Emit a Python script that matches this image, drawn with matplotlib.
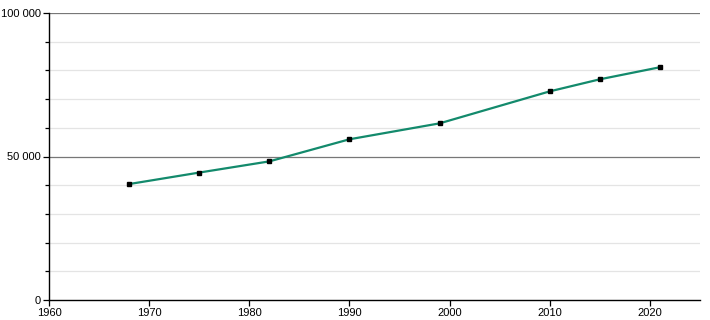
import matplotlib
matplotlib.use('Agg')
import matplotlib.pyplot as plt
from matplotlib.ticker import MultipleLocator, FuncFormatter

plt.rcParams.update({
    'font.family': 'Liberation Sans',
    'font.size': 8,
})

years = [1968, 1975, 1982, 1990, 1999, 2010, 2015, 2021]
population = [40400, 44400, 48300, 56000, 61550, 72700, 76900, 81100]

line_color = '#138a6c'

fig = plt.figure(figsize=(7.1, 3.2), dpi=100)
ax = fig.add_axes([49 / 710, 20 / 320, 651 / 710, 287 / 320])

ax.set_xlim(1960, 2025)
ax.set_ylim(0, 100000)

# light minor grid every 10 000, darker lines at 50 000 steps
for v in range(10000, 100001, 10000):
    if v % 50000 == 0:
        ax.axhline(v, color='#777777', linewidth=0.9, zorder=1)
    else:
        ax.axhline(v, color='#e4e4e4', linewidth=0.9, zorder=1)

ax.plot(years, population, color=line_color, linewidth=1.6, zorder=3)
ax.plot(years, population, linestyle='none', marker='s', markersize=3.3,
        color='black', zorder=4)

ax.xaxis.set_major_locator(MultipleLocator(10))
ax.yaxis.set_major_locator(MultipleLocator(50000))
ax.yaxis.set_minor_locator(MultipleLocator(10000))
ax.yaxis.set_major_formatter(FuncFormatter(lambda v, p: f'{int(v):,}'.replace(',', ' ')))

ax.tick_params(axis='both', direction='out', length=4, width=0.9, colors='black', pad=2)
ax.tick_params(axis='y', which='minor', length=3, width=0.9)

for side in ('top', 'right'):
    ax.spines[side].set_visible(False)
ax.spines['left'].set_linewidth(1.0)
ax.spines['bottom'].set_linewidth(1.0)

fig.savefig('out.png', dpi=100)
